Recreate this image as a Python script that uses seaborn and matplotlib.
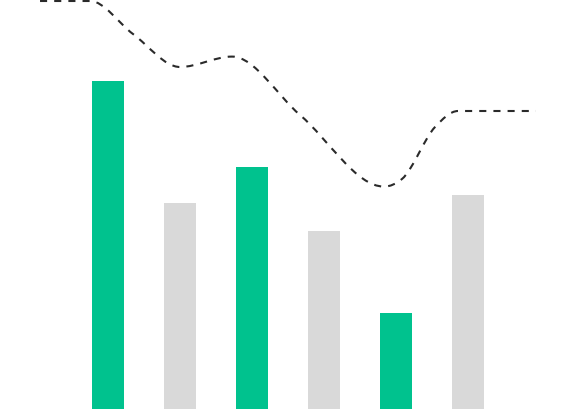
import numpy as np
import matplotlib
matplotlib.use("Agg")
import matplotlib.pyplot as plt
from matplotlib.path import Path
from matplotlib.patches import PathPatch
import seaborn as sns

# bars
categories = ["A", "B", "C", "D", "E", "F"]
bar_values = [82, 51.5, 60.5, 44.5, 24, 53.5]
bar_colors = ["#00C28E", "#D9D9D9", "#00C28E", "#D9D9D9", "#00C28E", "#D9D9D9"]

# dashed trend line (x in bar-slot units, same y scale as bars)
line_x = [-0.944, -0.25, 0.347, 1.0, 1.722, 2.667, 3.833, 4.083, 4.542, 4.861, 5.944]
line_y = [102, 102, 93.75, 85.5, 88.1, 73.5, 55.6, 57.5, 70.5, 74.5, 74.5]


def monotone_path(xs, ys):
    # cubic bezier path with monotone tangents (like d3 curveMonotoneX)
    xs = np.asarray(xs, float)
    ys = np.asarray(ys, float)
    n = len(xs)
    h = np.diff(xs)
    s = np.diff(ys) / h
    t = np.zeros(n)
    for i in range(1, n - 1):
        p = (s[i - 1] * h[i] + s[i] * h[i - 1]) / (h[i - 1] + h[i])
        t[i] = (np.sign(s[i - 1]) + np.sign(s[i])) * min(abs(s[i - 1]), abs(s[i]), 0.5 * abs(p))
    t[0] = (3 * s[0] - t[1]) / 2
    t[-1] = (3 * s[-1] - t[-2]) / 2
    verts = [(xs[0], ys[0])]
    codes = [Path.MOVETO]
    for i in range(n - 1):
        dx = h[i] / 3
        verts += [(xs[i] + dx, ys[i] + t[i] * dx),
                  (xs[i + 1] - dx, ys[i + 1] - t[i + 1] * dx),
                  (xs[i + 1], ys[i + 1])]
        codes += [Path.CURVE4] * 3
    return Path(verts, codes)


fig = plt.figure(figsize=(5.76, 4.10), dpi=100)
ax = fig.add_axes([0, 0, 1, 1])

sns.barplot(x=categories, y=bar_values, hue=categories, palette=bar_colors,
            width=0.444, saturation=1, linewidth=0, legend=False, ax=ax)

ax.add_patch(PathPatch(monotone_path(line_x, line_y), fill=False,
                       edgecolor="#2a2a2a", lw=1.5, linestyle=(0, (3.4, 3.4)),
                       capstyle="butt"))

ax.set_xlim(-1.5, 6.5)
ax.set_ylim(0, 102.5)
ax.axis("off")

fig.savefig("out.png", dpi=100)
